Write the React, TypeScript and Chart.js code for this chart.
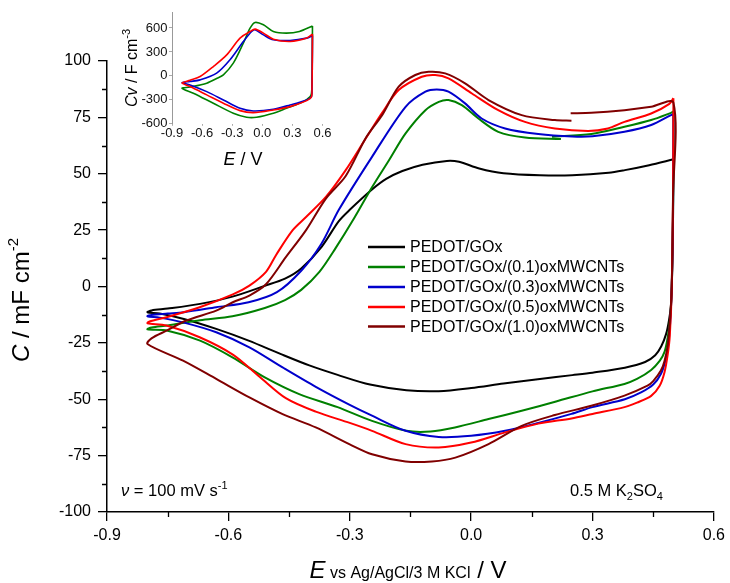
import React, { useEffect, useRef } from "react";
import { Chart, registerables } from "chart.js";

Chart.register(...registerables);

const FONT = "Arial, 'Liberation Sans', sans-serif";

// ---------------- data ----------------
const seriesLabels = [
  "PEDOT/GOx",
  "PEDOT/GOx/(0.1)oxMWCNTs",
  "PEDOT/GOx/(0.3)oxMWCNTs",
  "PEDOT/GOx/(0.5)oxMWCNTs",
  "PEDOT/GOx/(1.0)oxMWCNTs",
];
const seriesColors = ["#000000", "#008000", "#0000cc", "#ff0000", "#800000"];

const blackE = [0.5, 0.498, 0.494, 0.489, 0.482, 0.47, 0.455, 0.43, 0.38, 0.3, 0.25, 0.17, 0.08, 0.0, -0.08, -0.16, -0.25, -0.33, -0.4, -0.47, -0.55, -0.63, -0.71, -0.77, -0.8, -0.79, -0.75, -0.67, -0.59, -0.51, -0.46, -0.42, -0.37, -0.327, -0.3, -0.245, -0.21, -0.17, -0.12, -0.06, -0.03, 0.02, 0.08, 0.17, 0.25, 0.34, 0.38, 0.44, 0.5];
const blackC = [56.4, 20, -8, -15, -21, -26.5, -30.5, -33.5, -36, -38.2, -39.3, -41, -43, -45, -46.4, -46, -43.5, -39.2, -35, -30, -24, -18.8, -14.4, -12, -11.4, -10.6, -9.8, -7.7, -4.5, 0.3, 3.5, 8, 17.5, 29, 34, 43, 47.7, 51.2, 54, 55.7, 55.3, 52.3, 50.2, 49.3, 49.3, 50.4, 51.6, 53.8, 56.4];

const greenE = [0.2, 0.297, 0.379, 0.445, 0.494, 0.5, 0.499, 0.496, 0.492, 0.486, 0.478, 0.466, 0.445, 0.41, 0.379, 0.3, 0.21, 0.125, 0.043, -0.04, -0.1, -0.16, -0.245, -0.33, -0.425, -0.51, -0.59, -0.67, -0.75, -0.8, -0.79, -0.75, -0.67, -0.59, -0.51, -0.46, -0.42, -0.375, -0.335, -0.29, -0.245, -0.203, -0.162, -0.113, -0.08, -0.056, -0.023, 0.018, 0.067, 0.133, 0.222];
const greenC = [66.4, 67.6, 70.8, 73.8, 77, 77.5, 30, 0, -14, -22.5, -29, -33, -37, -41, -43.2, -46.5, -51, -55.1, -58.8, -62.5, -64.3, -64, -59.6, -53.5, -47.7, -40.3, -31.4, -24, -19.6, -19, -18.2, -17.3, -15, -13.2, -9.5, -6, -1.5, 6.5, 17, 30, 44, 56, 67.9, 78.2, 81.9, 82.7, 80.4, 74.5, 68.6, 66.1, 65.4];

const blueE = [0.5, 0.499, 0.496, 0.492, 0.487, 0.48, 0.469, 0.45, 0.42, 0.38, 0.3, 0.248, 0.166, 0.084, 0.0, -0.08, -0.162, -0.245, -0.3, -0.384, -0.466, -0.548, -0.63, -0.712, -0.77, -0.8, -0.79, -0.75, -0.71, -0.63, -0.55, -0.48, -0.42, -0.37, -0.327, -0.245, -0.162, -0.113, -0.085, -0.056, -0.015, 0.026, 0.084, 0.166, 0.25, 0.3, 0.379, 0.445, 0.494, 0.5];
const blueC = [76.5, 30, 0, -16, -26, -33, -38.8, -43.5, -47, -50, -53.5, -56.5, -60.5, -64, -66.2, -66.7, -64, -57.3, -52.5, -44.5, -35.9, -27, -20.3, -15.9, -13.8, -13.2, -12.6, -12, -11.4, -9.2, -7, -2.5, 7, 19, 34, 57.5, 79.7, 86.4, 87.4, 86.4, 81.2, 74.5, 70.1, 67.6, 66.5, 66.6, 68.6, 71.6, 76, 76.5];

const redE = [0.5, 0.499, 0.496, 0.491, 0.486, 0.478, 0.466, 0.445, 0.41, 0.379, 0.3, 0.248, 0.166, 0.084, 0.0, -0.08, -0.162, -0.245, -0.3, -0.384, -0.458, -0.523, -0.589, -0.671, -0.753, -0.8, -0.795, -0.753, -0.671, -0.589, -0.548, -0.507, -0.482, -0.441, -0.408, -0.359, -0.31, -0.261, -0.22, -0.179, -0.122, -0.089, -0.056, 0.002, 0.067, 0.133, 0.207, 0.289, 0.338, 0.379, 0.445, 0.49, 0.5];
const redC = [83.5, 40, 0, -22, -30, -38, -44, -48.5, -51.5, -53.5, -56.5, -58.5, -60.8, -64.7, -69.2, -71.4, -69.9, -64, -60.5, -55.5, -49.5, -40, -30.2, -22.5, -17.3, -16.3, -15.5, -13.6, -9.2, -3.5, 0.4, 6.5, 14, 25, 30.8, 39.7, 51.6, 65.5, 77, 87.1, 93, 93.8, 92.3, 85.6, 78.2, 73, 70.1, 69, 70.1, 73, 76.7, 81, 83.5];

const brownE = [0.246, 0.297, 0.379, 0.445, 0.5, 0.499, 0.496, 0.491, 0.486, 0.478, 0.469, 0.45, 0.436, 0.379, 0.297, 0.207, 0.125, 0.043, -0.039, -0.097, -0.162, -0.245, -0.3, -0.384, -0.466, -0.548, -0.63, -0.712, -0.8, -0.79, -0.753, -0.704, -0.63, -0.589, -0.548, -0.507, -0.458, -0.408, -0.359, -0.31, -0.26, -0.22, -0.179, -0.138, -0.105, -0.064, -0.015, 0.043, 0.125, 0.207, 0.248];
const brownC = [76.8, 77, 78.2, 79.7, 81.5, 40, 0, -16, -26, -33, -37.3, -42, -44, -48.4, -52.9, -57, -61.8, -69.9, -75.9, -77.6, -77.6, -74.4, -70, -62.5, -56.6, -49.2, -41, -32.9, -25.5, -23, -19.6, -15.1, -10.7, -7, -4, 1, 13, 25, 39, 49, 66, 76, 88.6, 93.8, 95.2, 94.5, 90.1, 82.7, 76, 73.8, 73.5];

// inset (volumetric capacitance, F cm^-3)
const insetGreenE = [0.5, 0.498, 0.495, 0.49, 0.477, 0.41, 0.24, 0.11, -0.057, -0.156, -0.289, -0.488, -0.687, -0.8, -0.72, -0.554, -0.45, -0.388, -0.289, -0.189, -0.122, -0.072, 0.011, 0.11, 0.24, 0.37, 0.5];
const insetGreenC = [625, 200, -100, -220, -259, -322, -406, -468, -518, -518, -468, -343, -217, -155, -140, -92, -30, 12, 159, 410, 598, 669, 640, 556, 535, 556, 625];
const insetBlueE = [0.5, 0.498, 0.495, 0.49, 0.443, 0.277, 0.11, -0.089, -0.222, -0.388, -0.554, -0.72, -0.8, -0.72, -0.62, -0.455, -0.322, -0.189, -0.106, -0.072, 0.011, 0.11, 0.277, 0.443, 0.5];
const insetBlueC = [505, 100, -150, -260, -301, -364, -418, -439, -406, -301, -197, -113, -84, -70, -50, 34, 201, 430, 556, 577, 514, 452, 443, 473, 505];
const insetRedE = [0.5, 0.498, 0.495, 0.49, 0.443, 0.277, 0.11, -0.089, -0.222, -0.388, -0.554, -0.72, -0.8, -0.72, -0.62, -0.488, -0.355, -0.222, -0.122, -0.072, 0.011, 0.11, 0.277, 0.443, 0.5];
const insetRedC = [523, 100, -150, -265, -310, -385, -427, -460, -435, -343, -238, -134, -90, -55, -8, 117, 263, 473, 556, 586, 535, 460, 430, 473, 523];
const insetColors = ["#008000", "#0000cc", "#ff0000"];

// ticks
const xTicksMain = [-0.9, -0.6, -0.3, 0.0, 0.3, 0.6];
const xMinorMain = [-0.75, -0.45, -0.15, 0.15, 0.45];
const yTicksMain = [-100, -75, -50, -25, 0, 25, 50, 75, 100];
const yMinorMain = [-87.5, -62.5, -37.5, -12.5, 12.5, 37.5, 62.5, 87.5];
const xTicksInset = [-0.9, -0.6, -0.3, 0.0, 0.3, 0.6];
const yTicksInset = [-600, -300, 0, 300, 600];

// ---------------- helpers ----------------
type Seg = { t: string; size: number; italic?: boolean; dy?: number };

const fontOf = (s: Seg) => `${s.italic ? "italic " : ""}${s.size}px ${FONT}`;

function drawRich(ctx: CanvasRenderingContext2D, segs: Seg[], x: number, y: number, align: string, rot = 0) {
  ctx.save();
  ctx.translate(x, y);
  if (rot) ctx.rotate(rot);
  ctx.textBaseline = "alphabetic";
  ctx.textAlign = "left";
  ctx.fillStyle = "#000";
  const widths = segs.map((s) => {
    ctx.font = fontOf(s);
    return ctx.measureText(s.t).width;
  });
  const total = widths.reduce((a, b) => a + b, 0);
  let cx = align === "center" ? -total / 2 : align === "right" ? -total : 0;
  segs.forEach((s, i) => {
    ctx.font = fontOf(s);
    ctx.fillText(s.t, cx, s.dy || 0);
    cx += widths[i];
  });
  ctx.restore();
}

const toPts = (E: number[], C: number[]) => E.map((e, i) => ({ x: e, y: C[i] }));
const fmt1 = (v: number) => (Math.abs(v) < 1e-9 ? "0.0" : v.toFixed(1));

export default function App() {
  const mainRef = useRef<HTMLCanvasElement>(null);
  const insetRef = useRef<HTMLCanvasElement>(null);

  useEffect(() => {
    const mainSeries = [
      [blackE, blackC],
      [greenE, greenC],
      [blueE, blueC],
      [redE, redC],
      [brownE, brownC],
    ];
    const mainDatasets = mainSeries.map(([E, C], i) => ({
      label: seriesLabels[i],
      data: toPts(E, C),
      borderColor: seriesColors[i],
      backgroundColor: seriesColors[i],
      borderWidth: 2,
      showLine: true,
      pointRadius: 0,
      tension: 0.3,
      fill: false,
      order: 4 - i,
    }));

    const mainDecor = {
      id: "mainDecor",
      afterDraw(chart: any) {
        const ctx: CanvasRenderingContext2D = chart.ctx;
        const xs = chart.scales.x;
        const ys = chart.scales.y;
        const area = chart.chartArea;
        ctx.save();
        // minor ticks
        ctx.strokeStyle = "#000";
        ctx.lineWidth = 1.3;
        ctx.beginPath();
        xMinorMain.forEach((v) => {
          const px = Math.round(xs.getPixelForValue(v)) + 0.5;
          ctx.moveTo(px, area.bottom);
          ctx.lineTo(px, area.bottom + 5);
        });
        yMinorMain.forEach((v) => {
          const py = Math.round(ys.getPixelForValue(v)) + 0.5;
          ctx.moveTo(area.left - 5, py);
          ctx.lineTo(area.left, py);
        });
        ctx.stroke();

        // legend
        const rows = [247, 267, 287, 307, 326.5];
        seriesLabels.forEach((lab, i) => {
          ctx.strokeStyle = seriesColors[i];
          ctx.lineWidth = 2.5;
          ctx.beginPath();
          ctx.moveTo(368, rows[i]);
          ctx.lineTo(405, rows[i]);
          ctx.stroke();
          ctx.fillStyle = "#000";
          ctx.font = `16px ${FONT}`;
          ctx.textAlign = "left";
          ctx.textBaseline = "middle";
          ctx.fillText(lab, 410, rows[i] + 1);
        });

        // annotations
        drawRich(ctx, [
          { t: "\u03BD", size: 16.5, italic: true },
          { t: " = 100 mV s", size: 16.5 },
          { t: "-1", size: 11, dy: -7 },
        ], 121, 496, "left");
        drawRich(ctx, [
          { t: "0.5 M K", size: 16.5 },
          { t: "2", size: 11, dy: 4 },
          { t: "SO", size: 16.5 },
          { t: "4", size: 11, dy: 4 },
        ], 570, 496, "left");

        // axis titles
        drawRich(ctx, [
          { t: "E", size: 24, italic: true },
          { t: " vs Ag/AgCl/3 M KCl", size: 16 },
          { t: " / V", size: 24 },
        ], 408, 578, "center");
        drawRich(ctx, [
          { t: "C", size: 24, italic: true },
          { t: " / mF cm", size: 24 },
          { t: "-2", size: 15, dy: -11 },
        ], 29, 300, "center", -Math.PI / 2);
        ctx.restore();
      },
    };

    const mainChart = new Chart(mainRef.current as HTMLCanvasElement, {
      type: "scatter",
      data: { datasets: mainDatasets as any },
      options: {
        responsive: false,
        animation: false,
        devicePixelRatio: 1,
        layout: { padding: { left: 0, top: 61, right: 14, bottom: 0 } },
        plugins: { legend: { display: false }, tooltip: { enabled: false }, title: { display: false } },
        scales: {
          x: {
            type: "linear",
            position: "bottom",
            min: -0.9,
            max: 0.6,
            afterBuildTicks: (s: any) => {
              s.ticks = xTicksMain.map((v) => ({ value: v }));
            },
            afterFit: (s: any) => {
              s.height = 71;
            },
            grid: { drawOnChartArea: false, drawTicks: true, tickLength: 9, color: "#000", lineWidth: 1.3 },
            border: { display: true, color: "#000", width: 1.5 },
            ticks: {
              color: "#000",
              font: { family: FONT, size: 16 },
              padding: 5,
              maxRotation: 0,
              autoSkip: false,
              callback: (v: any) => fmt1(Number(v)),
            },
          },
          y: {
            type: "linear",
            position: "left",
            min: -100,
            max: 100,
            afterBuildTicks: (s: any) => {
              s.ticks = yTicksMain.map((v) => ({ value: v }));
            },
            afterFit: (s: any) => {
              s.width = 107;
            },
            grid: { drawOnChartArea: false, drawTicks: true, tickLength: 9, color: "#000", lineWidth: 1.3 },
            border: { display: true, color: "#000", width: 1.5 },
            ticks: {
              color: "#000",
              font: { family: FONT, size: 16 },
              padding: 7,
              autoSkip: false,
              callback: (v: any) => String(v),
            },
          },
        },
      } as any,
      plugins: [mainDecor],
    });

    const insetSeries = [
      [insetGreenE, insetGreenC],
      [insetBlueE, insetBlueC],
      [insetRedE, insetRedC],
    ];
    const insetDatasets = insetSeries.map(([E, C], i) => ({
      data: toPts(E, C),
      borderColor: insetColors[i],
      backgroundColor: insetColors[i],
      borderWidth: 1.6,
      showLine: true,
      pointRadius: 0,
      tension: 0.3,
      fill: false,
      order: 2 - i,
    }));

    const insetDecor = {
      id: "insetDecor",
      afterDraw(chart: any) {
        const ctx: CanvasRenderingContext2D = chart.ctx;
        drawRich(ctx, [
          { t: "E", size: 18, italic: true },
          { t: " / V", size: 18 },
        ], 143, 165, "center");
        drawRich(ctx, [
          { t: "Cv", size: 16, italic: true },
          { t: " / F cm", size: 16 },
          { t: "-3", size: 11, dy: -7 },
        ], 37, 68, "center", -Math.PI / 2);
      },
    };

    const insetChart = new Chart(insetRef.current as HTMLCanvasElement, {
      type: "scatter",
      data: { datasets: insetDatasets as any },
      options: {
        responsive: false,
        animation: false,
        devicePixelRatio: 1,
        layout: { padding: { left: 0, top: 12, right: 27.5, bottom: 0 } },
        plugins: { legend: { display: false }, tooltip: { enabled: false }, title: { display: false } },
        scales: {
          x: {
            type: "linear",
            min: -0.9,
            max: 0.6,
            afterBuildTicks: (s: any) => {
              s.ticks = xTicksInset.map((v) => ({ value: v }));
            },
            afterFit: (s: any) => {
              s.height = 51.2;
            },
            grid: { drawOnChartArea: false, drawTicks: true, tickLength: 2, color: "#aaa", lineWidth: 1 },
            border: { display: false },
            ticks: {
              color: "#111",
              font: { family: FONT, size: 13 },
              padding: 0,
              maxRotation: 0,
              autoSkip: false,
              callback: (v: any) => fmt1(Number(v)),
            },
          },
          y: {
            type: "linear",
            min: -600,
            max: 800,
            afterBuildTicks: (s: any) => {
              s.ticks = yTicksInset.map((v) => ({ value: v }));
            },
            afterFit: (s: any) => {
              s.width = 72;
            },
            grid: { drawOnChartArea: false, drawTicks: true, tickLength: 3, color: "#aaa", lineWidth: 1 },
            border: { display: true, color: "#999", width: 1 },
            ticks: {
              color: "#111",
              font: { family: FONT, size: 13 },
              padding: 1.5,
              autoSkip: false,
              callback: (v: any) => String(v),
            },
          },
        },
      } as any,
      plugins: [insetDecor],
    });

    return () => {
      mainChart.destroy();
      insetChart.destroy();
    };
  }, []);

  return (
    <div style={{ position: "absolute", left: 0, top: 0, width: 730, height: 583, background: "#fff" }}>
      <canvas ref={mainRef} width={730} height={583} style={{ position: "absolute", left: 0, top: 0 }} />
      <canvas ref={insetRef} width={250} height={175} style={{ position: "absolute", left: 100, top: 0 }} />
    </div>
  );
}
